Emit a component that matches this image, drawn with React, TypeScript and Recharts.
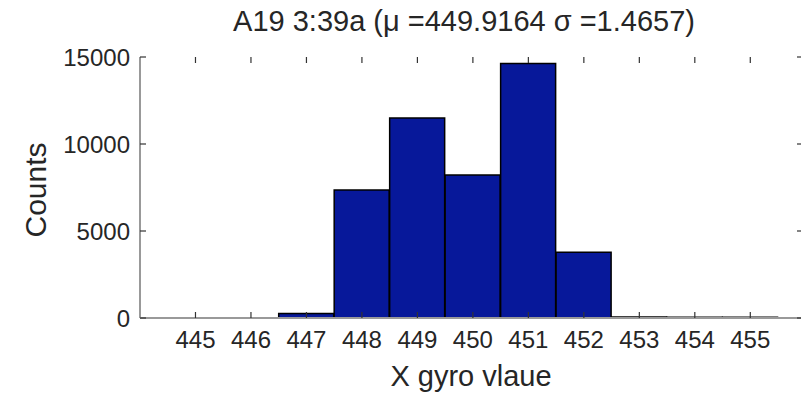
import React from 'react';
import { ComposedChart, Bar, XAxis, YAxis } from 'recharts';

// histogram bins (bin centre) and counts
const BINS = [445, 446, 447, 448, 449, 450, 451, 452, 453, 454, 455];
const COUNTS = [0, 0, 260, 7350, 11500, 8220, 14630, 3780, 60, 50, 40];
const X_TICKS = [445, 446, 447, 448, 449, 450, 451, 452, 453, 454, 455];
const Y_TICKS = [0, 5000, 10000, 15000];

const TITLE = 'A19 3:39a (\u03bc =449.9164 \u03c3 =1.4657)';
const X_LABEL = 'X gyro vlaue';
const Y_LABEL = 'Counts';

const data = BINS.map((bin, i) => ({ bin, count: COUNTS[i] }));

const W = 805;
const H = 393;
const PLOT_LEFT = 140;
const PLOT_TOP = 57;
const PLOT_BOTTOM = 318;
const PLOT_RIGHT = 803;
const Y_AXIS_W = 70;
const X_AXIS_H = 40;
const TICK_LEN = 6;

const FONT = '"Liberation Sans", Arial, sans-serif';
const TEXT = '#262626';
const BOX = '#999999';
const BAR = '#07189a';

// MATLAB style ticks: pointing inward, mirrored on the opposite side
const BottomTick = (props: any) => {
  const { x, payload } = props;
  return (
    <g>
      <line x1={x} x2={x} y1={PLOT_BOTTOM} y2={PLOT_BOTTOM - TICK_LEN} stroke="#333" strokeWidth={1.2} />
      <line x1={x} x2={x} y1={PLOT_TOP} y2={PLOT_TOP + TICK_LEN} stroke="#333" strokeWidth={1.2} />
      <text x={x} y={348} textAnchor="middle" fontFamily={FONT} fontSize={24} fill={TEXT}>
        {payload.value}
      </text>
    </g>
  );
};

const LeftTick = (props: any) => {
  const { y, payload } = props;
  return (
    <g>
      <line x1={PLOT_LEFT} x2={PLOT_LEFT + TICK_LEN} y1={y} y2={y} stroke="#333" strokeWidth={1.2} />
      <line x1={PLOT_RIGHT} x2={PLOT_RIGHT - TICK_LEN} y1={y} y2={y} stroke="#333" strokeWidth={1.2} />
      <text x={130} y={y + 9} textAnchor="end" fontFamily={FONT} fontSize={24} fill={TEXT}>
        {payload.value}
      </text>
    </g>
  );
};

export default function App() {
  return (
    <div style={{ position: 'absolute', left: 0, top: 0, width: 801, height: H, overflow: 'hidden', background: '#fff' }}>
      <div
        style={{
          position: 'absolute',
          left: 464,
          top: 36,
          transform: 'translate(-50%, -100%)',
          whiteSpace: 'nowrap',
          fontFamily: FONT,
          fontSize: 29,
          lineHeight: '29px',
          color: TEXT,
        }}
      >
        {TITLE}
      </div>
      <ComposedChart
        width={W}
        height={H}
        data={data}
        barCategoryGap={0}
        barGap={0}
        margin={{ top: PLOT_TOP, right: W - PLOT_RIGHT, bottom: H - PLOT_BOTTOM - X_AXIS_H, left: PLOT_LEFT - Y_AXIS_W }}
      >
        <XAxis
          dataKey="bin"
          type="number"
          domain={[444, 455.95]}
          ticks={X_TICKS}
          interval={0}
          height={X_AXIS_H}
          axisLine={{ stroke: BOX, strokeWidth: 2 }}
          tickLine={false}
          tick={<BottomTick />}
          allowDataOverflow
          label={{
            content: () => (
              <text x={471} y={386} textAnchor="middle" fontFamily={FONT} fontSize={29} fill={TEXT}>
                {X_LABEL}
              </text>
            ),
          }}
        />
        <XAxis
          xAxisId="top"
          dataKey="bin"
          type="number"
          orientation="top"
          domain={[444, 455.95]}
          height={0}
          tick={false}
          tickLine={false}
          axisLine={{ stroke: BOX, strokeWidth: 2 }}
          allowDataOverflow
        />
        <YAxis
          type="number"
          domain={[0, 15000]}
          ticks={Y_TICKS}
          interval={0}
          width={Y_AXIS_W}
          axisLine={{ stroke: BOX, strokeWidth: 2 }}
          tickLine={false}
          tick={<LeftTick />}
          allowDataOverflow
          label={{
            content: () => (
              <text
                x={46}
                y={190}
                transform="rotate(-90 46 190)"
                textAnchor="middle"
                fontFamily={FONT}
                fontSize={30}
                fill={TEXT}
              >
                {Y_LABEL}
              </text>
            ),
          }}
        />
        <YAxis
          yAxisId="right"
          orientation="right"
          type="number"
          domain={[0, 15000]}
          width={0}
          tick={false}
          tickLine={false}
          axisLine={{ stroke: BOX, strokeWidth: 2 }}
        />
        <Bar dataKey="count" fill={BAR} stroke="#000" strokeWidth={1.5} isAnimationActive={false} />
      </ComposedChart>
    </div>
  );
}
